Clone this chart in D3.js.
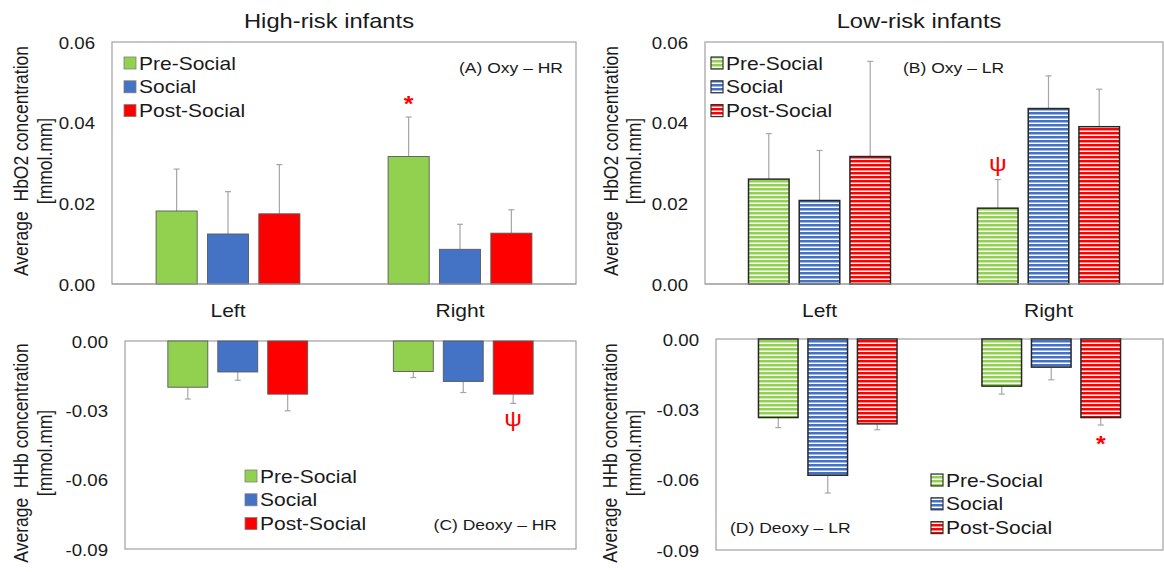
<!DOCTYPE html>
<html><head><meta charset="utf-8">
<script src="https://cdn.jsdelivr.net/npm/d3@7"></script>
<style>
body{margin:0;background:#fff}
text{font-family:"Liberation Sans",Arial,sans-serif;fill:#1a1a1a;white-space:pre}
</style>
</head><body>
<svg id="chart" width="1164" height="572"></svg>
<script>
// ---- data ----
const groups = ["Left", "Right"];
const conditions = ["Pre-Social", "Social", "Post-Social"];
const colors = ["#92d050", "#4472c4", "#ff0000"];

// mean change per hemisphere (rows) and condition (columns)
const oxyHR      = [[0.0181, 0.0124, 0.0174], [0.0316, 0.0086, 0.0126]];
const oxyHRErr   = [[0.0104, 0.0105, 0.0122], [0.0098, 0.0062, 0.0058]];
const oxyLR      = [[0.0260, 0.0207, 0.0316], [0.0188, 0.0435, 0.0390]];
const oxyLRErr   = [[0.0113, 0.0124, 0.0236], [0.0071, 0.0081, 0.0093]];
const deoxyHR    = [[-0.0200, -0.0134, -0.0230], [-0.0132, -0.0175, -0.0230]];
const deoxyHRErr = [[0.0051, 0.0036, 0.0072], [0.0026, 0.0048, 0.0040]];
const deoxyLR    = [[-0.0335, -0.0581, -0.0362], [-0.0201, -0.0120, -0.0335]];
const deoxyLRErr = [[0.0043, 0.0076, 0.0025], [0.0034, 0.0054, 0.0032]];

const oxyTicks = [0, 0.02, 0.04, 0.06];
const deoxyTicks = [0, -0.03, -0.06, -0.09];

// significance markers: [group, condition, symbol]
const sigOxyHR = [["Right", "Pre-Social", "*"]];
const sigOxyLR = [["Right", "Pre-Social", "ψ"]];
const sigDeoxyHR = [["Right", "Post-Social", "ψ"]];
const sigDeoxyLR = [["Right", "Post-Social", "*"]];

// ---- layout ----
const SX = 1.13;           // horizontal stretch applied to text
const svg = d3.select("#chart");
const defs = svg.append("defs");

colors.forEach((c, i) => {
  const p = defs.append("pattern").attr("id", "hatch" + i)
    .attr("patternUnits", "userSpaceOnUse").attr("width", 8).attr("height", 4);
  p.append("rect").attr("width", 8).attr("height", 4).attr("fill", "#fff");
  p.append("rect").attr("width", 8).attr("height", 2.5).attr("fill", c);
});

function stext(g, x, y, str, size, anchor) {
  return g.append("text")
    .attr("transform", `translate(${x},${y}) scale(${SX},1)`)
    .attr("text-anchor", anchor || "start")
    .attr("font-size", size)
    .text(str);
}

const fmt = v => d3.format(".2f")(v).replace("−", "-");

const panels = [
  { box: [112, 576, 42, 284], domain: [0, 0.06], ticks: oxyTicks, means: oxyHR, errs: oxyHRErr,
    hatched: false, title: "High-risk infants", ylab: "Average  HbO2 concentration", yl: [21, 45],
    tag: "(A) Oxy – HR", tagX: 563, tagY: 67, tagAnchor: "end",
    legend: { x: 124, y: 63 }, cats: true, sig: sigOxyHR },
  { box: [705, 1163, 42, 284], domain: [0, 0.06], ticks: oxyTicks, means: oxyLR, errs: oxyLRErr,
    hatched: true, title: "Low-risk infants", ylab: "Average  HbO2 concentration", yl: [611, 634],
    tag: "(B) Oxy – LR", tagX: 903, tagY: 67, tagAnchor: "start",
    legend: { x: 711, y: 63 }, cats: true, sig: sigOxyLR },
  { box: [125, 576, 341, 549], domain: [-0.09, 0], ticks: deoxyTicks, means: deoxyHR, errs: deoxyHRErr,
    hatched: false, ylab: "Average  HHb concentration", yl: [21, 45],
    tag: "(C) Deoxy – HR", tagX: 557, tagY: 524, tagAnchor: "end",
    legend: { x: 245, y: 476 }, cats: false, sig: sigDeoxyHR },
  { box: [716, 1163, 339, 550], domain: [-0.09, 0], ticks: deoxyTicks, means: deoxyLR, errs: deoxyLRErr,
    hatched: true, ylab: "Average  HHb concentration", yl: [610, 634],
    tag: "(D) Deoxy – LR", tagX: 730, tagY: 527, tagAnchor: "start",
    legend: { x: 931, y: 480 }, cats: false, sig: sigDeoxyLR }
];

panels.forEach(P => {
  const [x0, x1, yT, yB] = P.box;
  const g = svg.append("g");
  const fillOf = i => P.hatched ? `url(#hatch${i})` : colors[i];

  const y = d3.scaleLinear().domain(P.domain).range([yB, yT]);
  const xg = d3.scaleBand().domain(groups).range([x0, x1]);
  const xc = d3.scaleBand().domain(conditions).range([0, xg.bandwidth() * 0.62]).paddingInner(0.2);
  const off = xg.bandwidth() * 0.19;

  // frame
  g.append("rect").attr("x", x0).attr("y", yT).attr("width", x1 - x0).attr("height", yB - yT)
    .attr("fill", "none").attr("stroke", "#a0a0a0").attr("stroke-width", 1.2);

  // y axis labels
  const ax = g.append("g").attr("transform", `translate(${x0},0)`)
    .call(d3.axisLeft(y).tickValues(P.ticks).tickSize(0).tickPadding(0).tickFormat(fmt));
  ax.select(".domain").remove();
  ax.selectAll("text").attr("x", null).attr("dy", null)
    .attr("transform", `translate(-17,6) scale(${SX},1)`)
    .attr("font-size", 16.5).attr("font-family", '"Liberation Sans",Arial,sans-serif')
    .style("fill", "#1a1a1a");

  // bars
  const rows = [];
  groups.forEach((gr, gi) => conditions.forEach((c, ci) =>
    rows.push({ gr, c, ci, v: P.means[gi][ci], e: P.errs[gi][ci] })));
  const bx = d => xg(d.gr) + off + xc(d.c);

  // error bars
  rows.forEach(d => {
    const cx = bx(d) + xc.bandwidth() / 2;
    const end = d.v >= 0 ? d.v + d.e : d.v - d.e;
    g.append("line").attr("x1", cx).attr("x2", cx).attr("y1", y(d.v)).attr("y2", y(end))
      .attr("stroke", "#a6a6a6").attr("stroke-width", 1.2);
    g.append("line").attr("x1", cx - 3).attr("x2", cx + 3).attr("y1", y(end)).attr("y2", y(end))
      .attr("stroke", "#a6a6a6").attr("stroke-width", 1.2);
  });

  g.selectAll("rect.bar").data(rows).join("rect").attr("class", "bar")
    .attr("x", bx).attr("width", xc.bandwidth())
    .attr("y", d => Math.min(y(d.v), y(0)))
    .attr("height", d => Math.abs(y(d.v) - y(0)))
    .attr("fill", d => fillOf(d.ci))
    .attr("stroke", P.hatched ? "#262626" : "#5a5a5a")
    .attr("stroke-width", P.hatched ? 1.5 : 0.9);

  // baseline for positive panels
  if (P.domain[0] === 0) {
    g.append("line").attr("x1", x0).attr("x2", x1).attr("y1", y(0)).attr("y2", y(0))
      .attr("stroke", "#a0a0a0").attr("stroke-width", 1.2);
  }

  // significance markers
  P.sig.forEach(([gr, c, sym]) => {
    const gi = groups.indexOf(gr), ci = conditions.indexOf(c);
    const v = P.means[gi][ci], e = P.errs[gi][ci];
    const end = v >= 0 ? v + e : v - e;
    const cx = xg(gr) + off + xc(c) + xc.bandwidth() / 2;
    const cy = y(end) + (v >= 0 ? -16 : 16);
    const t = stext(g, cx, cy + (sym === "*" ? 10 : 7), sym, sym === "*" ? 22 : 22, "middle")
      .style("fill", "#ff0000");
    if (sym === "*") t.attr("font-weight", "bold");
  });

  // category labels
  if (P.cats) {
    groups.forEach(gr => stext(g, xg(gr) + xg.bandwidth() / 2, 317, gr, 18.6, "middle"));
  }

  // title
  if (P.title) stext(g, (x0 + x1) / 2 - 15, 28, P.title, 21, "middle");

  // y axis title (two lines)
  const yc = P.domain[0] === 0 ? 161 : 453;
  [[P.ylab, P.yl[0]], ["[mmol.mm]", P.yl[1]]].forEach(([s, xx]) => {
    g.append("text")
      .attr("transform", `translate(${xx},${yc}) scale(${SX},1) rotate(-90)`)
      .attr("text-anchor", "middle").attr("dy", "0.35em")
      .attr("font-size", 17.5).text(s);
  });

  // panel tag
  stext(g, P.tagX, P.tagY + 5.5, P.tag, 15.5, P.tagAnchor);

  // legend
  conditions.forEach((c, i) => {
    const ly = P.legend.y + i * 23.8;
    g.append("rect").attr("x", P.legend.x).attr("y", ly - 6).attr("width", 12).attr("height", 12)
      .attr("fill", fillOf(i))
      .attr("stroke", P.hatched ? "#333" : "#7f7f7f").attr("stroke-width", P.hatched ? 1.2 : 0.8);
    stext(g, P.legend.x + 15, ly + 6.6, c, 18.6, "start");
  });
});
</script>
</body></html>
